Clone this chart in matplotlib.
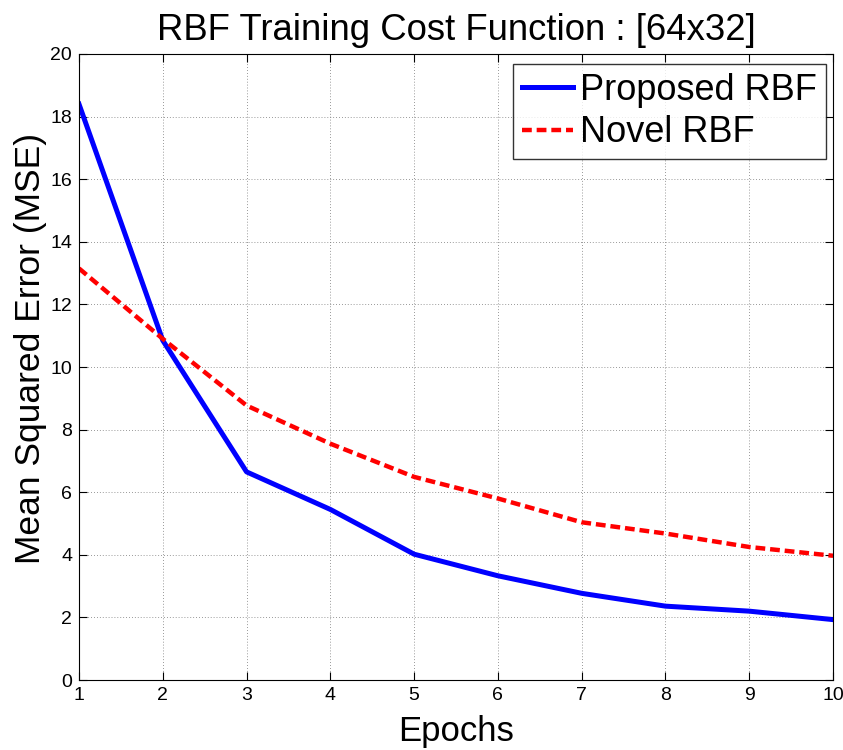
import matplotlib
matplotlib.use("Agg")
import matplotlib.pyplot as plt

epochs = [1, 2, 3, 4, 5, 6, 7, 8, 9, 10]
proposed_rbf = [18.4, 10.85, 6.65, 5.45, 4.02, 3.33, 2.77, 2.36, 2.2, 1.93]
novel_rbf = [13.15, 10.9, 8.77, 7.55, 6.49, 5.8, 5.04, 4.68, 4.25, 3.97]

plt.rcParams['font.family'] = ['Liberation Sans', 'DejaVu Sans']
narrow = ['Liberation Sans Narrow', 'Liberation Sans']

fig = plt.figure(figsize=(8.43, 7.5), dpi=100)
ax = fig.add_axes([0.0937, 0.0933, 0.8945, 0.8347])

ax.plot(epochs, proposed_rbf, color='#0000ff', linewidth=3.6, label='Proposed RBF')
ax.plot(epochs, novel_rbf, color='#ff0000', linewidth=3.2, linestyle=(0, (2.2, 1.1)), label='Novel RBF')

ax.set_xlim(1, 10)
ax.set_ylim(0, 20)
ax.set_xticks(range(1, 11))
ax.set_yticks(range(0, 21, 2))
ax.tick_params(direction='in', top=True, right=True, labelsize=14, length=6, pad=5)
for lbl in ax.get_xticklabels() + ax.get_yticklabels():
    lbl.set_family(narrow)
ax.grid(True, linestyle=(0, (1, 2.5)), color='#777777', linewidth=0.6)

ax.set_title('RBF Training Cost Function : [64x32]', fontsize=26.3, pad=10, family=narrow)
ax.set_xlabel('Epochs', fontsize=25, labelpad=8)
ax.set_ylabel('Mean Squared Error (MSE)', fontsize=25.5)
ax.yaxis.set_label_coords(-0.043, 0.53)

leg = ax.legend(loc='upper right', bbox_to_anchor=(0.9907, 0.984), fontsize=26, frameon=True,
                fancybox=False, edgecolor='black', handlelength=1.4, handletextpad=0.2,
                borderpad=0.25, labelspacing=0.2, borderaxespad=0)
leg.get_frame().set_linewidth(1.0)

fig.savefig('out.png', dpi=100)
